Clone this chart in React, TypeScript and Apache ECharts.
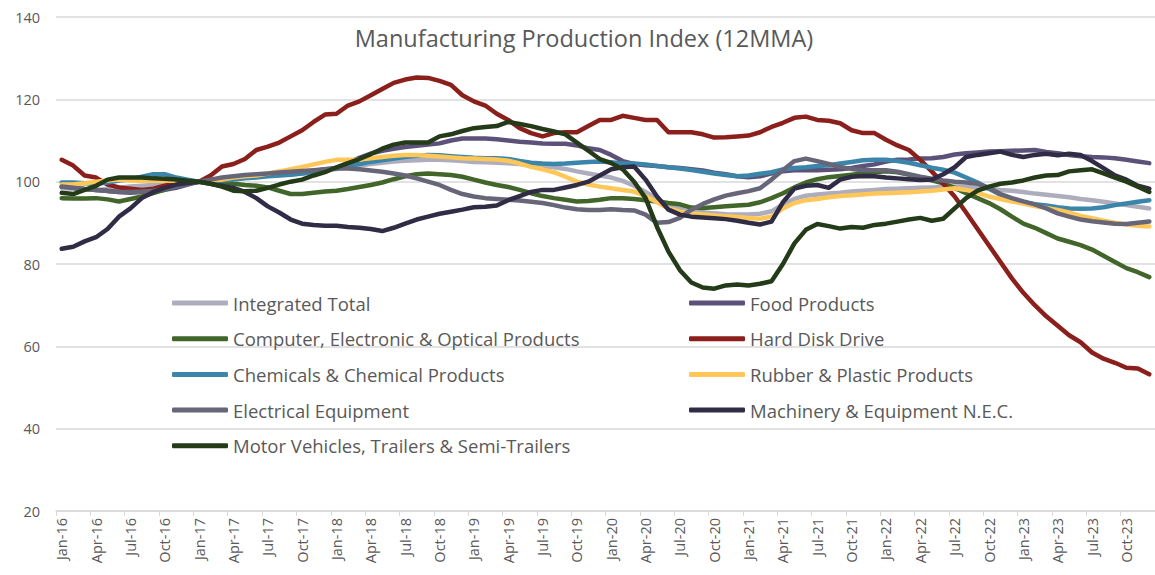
import React, { useEffect, useRef } from "react";
import * as echarts from "echarts";

const MONTHS = ["Jan", "Feb", "Mar", "Apr", "May", "Jun", "Jul", "Aug", "Sep", "Oct", "Nov", "Dec"];
const YEARS = ["16", "17", "18", "19", "20", "21", "22", "23"];
const categories: string[] = [];
YEARS.forEach((y) => MONTHS.forEach((m) => categories.push(`${m}-${y}`)));

const TITLE = "Manufacturing Production Index (12MMA)";
const Y_MIN = 20;
const Y_MAX = 140;
const Y_STEP = 20;

const integratedTotal = [
  98.5, 98.3, 98.2, 98.0, 98.2, 98.5, 98.8, 99.0, 99.2, 99.4, 99.6, 99.8,
  100.0, 100.3, 100.6, 100.9, 101.1, 101.3, 101.5, 101.6, 101.8, 102.0, 102.3, 102.7,
  103.1, 103.5, 103.9, 104.3, 104.6, 104.9, 105.1, 105.2, 105.3, 105.3, 105.2, 105.0,
  104.8, 104.7, 104.6, 104.5, 104.3, 104.0, 103.7, 103.5, 103.1, 102.5, 102.0, 101.5,
  101.0, 100.2, 99.0, 97.5, 95.8, 94.3, 93.5, 93.0, 92.6, 92.3, 92.1, 92.0,
  92.0, 92.2, 92.8, 94.5, 95.8, 96.6, 96.9, 97.1, 97.3, 97.6, 97.8, 98.0,
  98.2, 98.3, 98.4, 98.5, 98.6, 98.7, 98.8, 98.7, 98.5, 98.3, 98.0, 97.8,
  97.5, 97.1, 96.8, 96.5, 96.2, 95.8, 95.5, 95.1, 94.7, 94.3, 93.9, 93.5,
];

const foodProducts = [
  98.8, 98.5, 98.2, 98.0, 97.8, 97.5, 97.3, 97.5, 97.8, 98.0, 98.5, 99.3,
  100.0, 100.3, 100.5, 100.8, 101.0, 101.2, 101.5, 101.8, 102.0, 102.3, 102.6, 103.0,
  103.3, 104.5, 105.8, 106.8, 107.5, 108.0, 108.4, 108.7, 109.0, 109.3, 110.0, 110.5,
  110.5, 110.5, 110.3, 110.0, 109.7, 109.5, 109.3, 109.2, 109.2, 108.8, 108.1, 107.7,
  106.5, 105.0, 104.3, 104.0, 103.8, 103.5, 103.3, 103.0, 102.7, 102.2, 101.8, 101.3,
  101.1, 101.3, 102.0, 102.5, 102.8, 102.8, 102.8, 102.9, 103.0, 103.3, 103.8, 104.2,
  104.9, 105.3, 105.4, 105.6, 105.7, 106.0, 106.6, 106.9, 107.1, 107.3, 107.4, 107.5,
  107.6, 107.7, 107.2, 106.9, 106.5, 106.2, 106.0, 105.9, 105.7, 105.3, 104.9, 104.5,
];

const computerElectronic = [
  96.0, 95.9, 95.9, 96.0, 95.7, 95.2, 95.8, 96.4, 97.2, 98.1, 99.0, 99.6,
  100.0, 100.1, 100.0, 99.5, 99.2, 99.0, 98.6, 97.8, 97.0, 97.0, 97.3, 97.6,
  97.8, 98.2, 98.7, 99.2, 99.8, 100.6, 101.3, 101.8, 102.0, 101.8, 101.6, 101.2,
  100.5, 99.8, 99.2, 98.7, 98.0, 97.2, 96.5, 96.0, 95.6, 95.2, 95.3, 95.6,
  96.0, 96.0, 95.8, 95.5, 95.2, 94.8, 94.5, 93.7, 93.6, 93.8, 94.0, 94.2,
  94.4, 95.0, 96.0, 97.2, 98.6, 99.8, 100.6, 101.1, 101.4, 101.7, 102.0, 102.3,
  102.5, 102.3, 101.7, 101.0, 100.3, 99.6, 98.5, 97.2, 96.0, 94.8, 93.3, 91.5,
  89.8, 88.8, 87.5, 86.2, 85.4, 84.6, 83.5, 82.0, 80.5, 79.0, 78.0, 76.8,
];

const hardDiskDrive = [
  105.3, 103.9, 101.5, 101.0, 99.3, 98.6, 98.3, 98.0, 98.3, 99.0, 99.6, 100.0,
  100.0, 101.5, 103.7, 104.3, 105.5, 107.7, 108.5, 109.5, 111.0, 112.5, 114.5, 116.3,
  116.5, 118.5, 119.5, 121.0, 122.5, 124.0, 124.8, 125.3, 125.2, 124.5, 123.5, 121.0,
  119.5, 118.5, 116.5, 115.0, 113.0, 111.8, 111.0, 111.8, 112.0, 112.0, 113.5, 115.0,
  115.0, 116.0, 115.5, 115.0, 115.0, 112.0, 112.0, 112.0, 111.5, 110.7, 110.8, 111.0,
  111.2, 112.0, 113.3, 114.3, 115.5, 115.8, 115.0, 114.8, 114.2, 112.5, 111.8, 111.8,
  110.2, 108.8, 107.7, 105.3, 102.5, 99.5, 96.4, 92.5, 88.5, 84.5, 80.5, 76.5,
  73.0, 70.0, 67.3, 65.0, 62.7, 61.0, 58.5, 57.0, 56.0, 54.8, 54.6, 53.2,
];

const chemicals = [
  99.8, 99.8, 99.6, 99.5, 99.8, 100.3, 100.6, 101.2, 101.8, 101.8, 101.0, 100.5,
  100.0, 100.2, 100.3, 100.5, 100.8, 101.0, 101.3, 101.5, 101.7, 102.0, 102.4, 102.8,
  103.3, 103.8, 104.3, 104.8, 105.2, 105.6, 106.0, 106.3, 106.5, 106.4, 106.2, 106.0,
  105.8, 105.7, 105.7, 105.5, 105.0, 104.6, 104.4, 104.3, 104.4, 104.6, 104.8, 104.9,
  104.7, 104.4, 104.4, 104.2, 103.8, 103.5, 103.2, 102.8, 102.4, 102.0, 101.6, 101.3,
  101.5, 101.9, 102.3, 103.0, 103.3, 103.5, 103.8, 104.0, 104.4, 104.8, 105.2, 105.3,
  105.3, 105.0, 104.6, 104.0, 103.4, 102.9, 102.2, 101.0, 99.8, 98.3, 96.8, 95.8,
  95.0, 94.5, 94.2, 93.8, 93.5, 93.4, 93.5, 93.8, 94.3, 94.7, 95.1, 95.5,
];

const rubberPlastic = [
  99.3, 99.3, 99.6, 100.0, 100.3, 100.5, 100.3, 100.2, 100.2, 100.3, 100.2, 100.0,
  100.0, 100.2, 100.5, 101.0, 101.3, 101.5, 102.0, 102.5, 103.0, 103.6, 104.2, 104.8,
  105.3, 105.3, 105.4, 105.7, 106.0, 106.3, 106.5, 106.5, 106.3, 106.1, 105.9, 105.7,
  105.6, 105.5, 105.4, 105.1, 104.4, 103.6, 103.0, 102.3, 101.2, 100.0, 99.3, 98.8,
  98.4, 98.0, 97.6, 96.5, 95.0, 93.5, 92.7, 92.3, 92.0, 91.8, 91.6, 91.4,
  91.2, 91.0, 91.5, 93.5, 94.8, 95.5, 95.8, 96.2, 96.5, 96.7, 96.9, 97.1,
  97.2, 97.3, 97.4, 97.6, 97.8, 98.1, 98.4, 98.0, 97.3, 96.4, 95.8, 95.2,
  94.7, 94.1, 93.6, 93.1, 92.5, 91.7, 91.1, 90.5, 90.0, 89.6, 89.3, 89.1,
];

const electricalEquipment = [
  98.8, 98.5, 98.2, 98.0, 97.7, 97.5, 97.5, 97.6, 97.8, 98.2, 98.8, 99.4,
  100.0, 100.5, 101.0, 101.3, 101.6, 101.8, 102.0, 102.2, 102.4, 102.6, 102.8, 103.0,
  103.2, 103.2, 103.0, 102.7, 102.4, 102.0, 101.5, 100.8, 100.0, 99.2, 98.0, 97.0,
  96.4, 96.0, 95.8, 95.6, 95.4, 95.1, 94.8, 94.3, 93.7, 93.3, 93.1, 93.1,
  93.3, 93.1, 93.0, 92.0, 90.0, 90.2, 91.2, 93.2, 94.6, 95.7, 96.6, 97.2,
  97.7, 98.4, 100.5, 102.8, 105.0, 105.6, 105.0, 104.3, 103.6, 103.1, 102.8, 102.8,
  102.8, 102.4, 101.8, 101.2, 100.7, 100.3, 100.0, 99.8, 99.5, 98.5, 97.0, 96.0,
  95.2, 94.5, 93.5, 92.3, 91.5, 90.8, 90.4, 90.1, 89.8, 89.7, 90.0, 90.3,
];

const machineryEquipment = [
  83.7, 84.2, 85.5, 86.5, 88.5, 91.5, 93.5, 96.0, 97.5, 98.5, 99.3, 99.7,
  100.0, 99.5, 99.0, 98.5, 97.5, 96.0, 94.0, 92.5, 90.8, 89.8, 89.5, 89.3,
  89.3, 89.0, 88.8, 88.5, 88.0, 88.8, 89.8, 90.8, 91.5, 92.2, 92.7, 93.2,
  93.8, 93.9, 94.2, 95.5, 96.5, 97.5, 98.0, 98.0, 98.6, 99.2, 100.0, 101.5,
  103.0, 103.5, 103.7, 100.5, 96.4, 93.2, 92.0, 91.5, 91.3, 91.1, 90.9, 90.5,
  90.0, 89.6, 90.3, 95.0, 98.3, 99.0, 99.2, 98.5, 100.5, 101.2, 101.4, 101.3,
  101.0, 100.8, 100.6, 100.4, 100.5, 101.8, 103.5, 106.0, 106.5, 106.9, 107.3, 106.5,
  106.0, 106.5, 106.8, 106.4, 106.8, 106.5, 105.0, 103.3, 101.5, 100.5, 99.0, 98.3,
];

const motorVehicles = [
  97.3, 97.0, 98.0, 99.0, 100.5, 101.0, 101.0, 101.0, 100.8, 100.7, 100.5, 100.2,
  100.0, 99.5, 98.8, 97.8, 97.7, 97.8, 98.5, 99.3, 100.0, 100.5, 101.5, 102.3,
  103.5, 104.5, 105.5, 106.7, 108.0, 109.0, 109.5, 109.5, 109.5, 111.0, 111.5, 112.3,
  113.0, 113.3, 113.5, 114.5, 114.0, 113.5, 112.8, 112.2, 111.5, 109.5, 107.5, 105.5,
  104.5, 103.0, 100.0, 96.0, 89.0, 83.0, 78.5, 75.5, 74.3, 74.0, 74.8, 75.0,
  74.8, 75.2, 75.8, 80.0, 85.0, 88.3, 89.7, 89.2, 88.6, 89.0, 88.8, 89.5,
  89.8, 90.3, 90.8, 91.2, 90.5, 91.0, 93.5, 96.0, 97.8, 98.8, 99.5, 99.8,
  100.3, 101.0, 101.5, 101.6, 102.5, 102.8, 103.0, 102.0, 101.0, 100.0, 98.8, 97.5,
];

const seriesNames = [
  "Integrated Total",
  "Food Products",
  "Computer, Electronic & Optical Products",
  "Hard Disk Drive",
  "Chemicals & Chemical Products",
  "Rubber & Plastic Products",
  "Electrical Equipment",
  "Machinery & Equipment N.E.C.",
  "Motor Vehicles, Trailers & Semi-Trailers",
];
const seriesValues = [
  integratedTotal,
  foodProducts,
  computerElectronic,
  hardDiskDrive,
  chemicals,
  rubberPlastic,
  electricalEquipment,
  machineryEquipment,
  motorVehicles,
];
const seriesColors = [
  "#ADADBE",
  "#5C5279",
  "#42652A",
  "#8A1F1C",
  "#3B85AA",
  "#FFC658",
  "#676679",
  "#302C46",
  "#243B19",
];

const leftLegend = [seriesNames[0], seriesNames[2], seriesNames[4], seriesNames[6], seriesNames[8]];
const rightLegend = [seriesNames[1], seriesNames[3], seriesNames[5], seriesNames[7]];

const FONT = "'Open Sans', 'Noto Sans', sans-serif";
const TEXT = "#595959";
const GRIDC = "#D9D9D9";

export default function App() {
  const ref = useRef<HTMLDivElement>(null);
  useEffect(() => {
    if (!ref.current) return;
    const chart = echarts.init(ref.current, undefined, { renderer: "svg" });
    const legendBase = {
      orient: "vertical" as const,
      top: 293,
      padding: 0,
      itemGap: 15.7,
      itemWidth: 56,
      itemHeight: 5,
      icon: "roundRect",
      selectedMode: false,
      textStyle: { color: TEXT, fontSize: 18.5, fontFamily: FONT, lineHeight: 20 },
    };
    chart.setOption({
      animation: false,
      backgroundColor: "#ffffff",
      textStyle: { fontFamily: FONT },
      graphic: [
        {
          type: "text",
          x: 584,
          y: 38,
          style: {
            text: TITLE,
            fontSize: 23.5,
            fontFamily: FONT,
            fill: TEXT,
            align: "center",
            verticalAlign: "middle",
          },
        },
      ],
      legend: [
        { ...legendBase, left: 172, data: leftLegend },
        { ...legendBase, left: 689, data: rightLegend },
      ],
      grid: { left: 56, right: -11, top: 17, bottom: 64, containLabel: false },
      xAxis: {
        type: "category",
        data: categories,
        boundaryGap: true,
        axisLine: { show: true, lineStyle: { color: GRIDC, width: 1.5 } },
        axisTick: { show: true, interval: 2, alignWithLabel: false, length: 5, lineStyle: { color: GRIDC } },
        axisLabel: { interval: 2, rotate: 90, fontSize: 14.5, color: TEXT, fontFamily: FONT, margin: 7 },
        splitLine: { show: false },
      },
      yAxis: {
        type: "value",
        min: Y_MIN,
        max: Y_MAX,
        interval: Y_STEP,
        axisLine: { show: false },
        axisTick: { show: false },
        axisLabel: { fontSize: 14.5, color: TEXT, fontFamily: FONT, margin: 16 },
        splitLine: { show: true, lineStyle: { color: GRIDC, width: 1.5 } },
      },
      series: seriesNames.map((name, i) => ({
        name,
        type: "line",
        data: seriesValues[i],
        showSymbol: false,
        symbol: "none",
        smooth: false,
        color: seriesColors[i],
        lineStyle: { width: 4.5, color: seriesColors[i], cap: "round", join: "round" },
        emphasis: { disabled: true },
        z: 2 + i,
      })),
    });
    return () => chart.dispose();
  }, []);
  return (
    <div
      ref={ref}
      style={{ position: "fixed", left: 0, top: 0, width: 1155, height: 575, background: "#fff" }}
    />
  );
}
